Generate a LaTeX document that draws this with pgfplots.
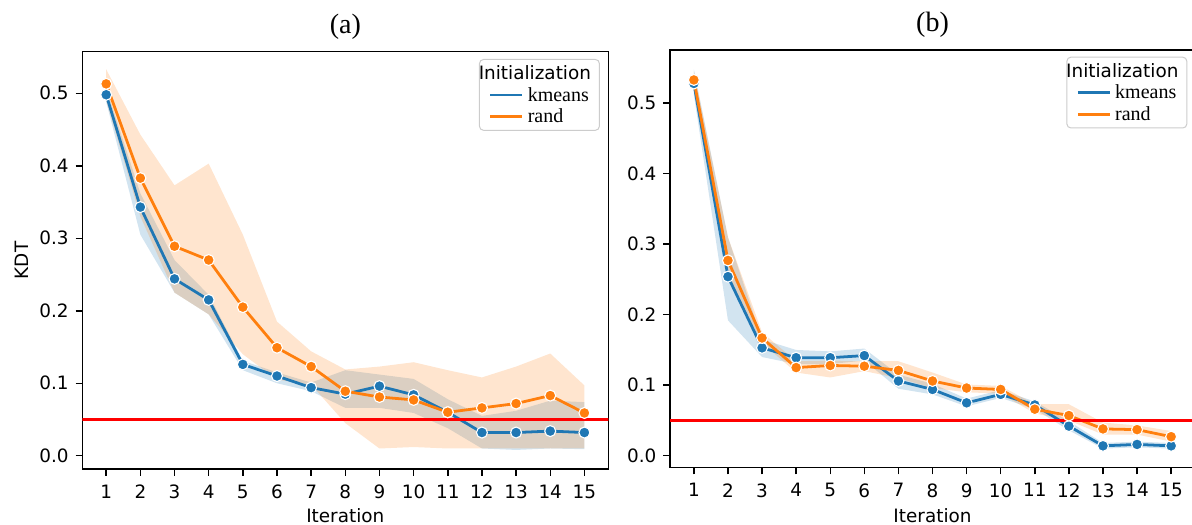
\documentclass[border=0pt]{standalone}
\usepackage{fontspec}
\setmainfont{DejaVu Sans}
\newfontfamily\tnr{Liberation Serif}
\usepackage{pgfplots}
\usepackage{pgfplotstable}
\usepgfplotslibrary{fillbetween}
\pgfplotsset{compat=1.18}

\definecolor{kblue}{HTML}{1F77B4}
\definecolor{rorange}{HTML}{FF7F0E}
\definecolor{legedge}{RGB}{204,204,204}

% mean and confidence band per iteration
\pgfplotstableread{
x m lo hi
1 0.498 0.488 0.507
2 0.343 0.305 0.362
3 0.244 0.225 0.270
4 0.215 0.195 0.222
5 0.126 0.118 0.131
6 0.110 0.100 0.115
7 0.094 0.089 0.101
8 0.085 0.066 0.118
9 0.096 0.066 0.112
10 0.084 0.059 0.106
11 0.060 0.038 0.078
12 0.032 0.010 0.055
13 0.032 0.008 0.062
14 0.034 0.010 0.076
15 0.032 0.009 0.074
}\Ka
\pgfplotstableread{
x m lo hi
1 0.513 0.490 0.533
2 0.383 0.330 0.443
3 0.289 0.225 0.373
4 0.270 0.195 0.403
5 0.205 0.140 0.305
6 0.149 0.105 0.185
7 0.123 0.098 0.144
8 0.089 0.045 0.119
9 0.081 0.010 0.123
10 0.077 0.012 0.129
11 0.060 0.010 0.118
12 0.066 0.010 0.108
13 0.072 0.010 0.123
14 0.083 0.010 0.141
15 0.059 0.010 0.097
}\Ra
\pgfplotstableread{
x m lo hi
1 0.528 0.512 0.548
2 0.254 0.192 0.310
3 0.153 0.140 0.165
4 0.139 0.130 0.150
5 0.139 0.130 0.148
6 0.142 0.135 0.152
7 0.106 0.095 0.115
8 0.094 0.087 0.102
9 0.075 0.070 0.081
10 0.087 0.082 0.093
11 0.072 0.066 0.077
12 0.042 0.036 0.049
13 0.014 0.010 0.018
14 0.016 0.012 0.020
15 0.014 0.010 0.018
}\Kb
\pgfplotstableread{
x m lo hi
1 0.533 0.520 0.545
2 0.277 0.250 0.310
3 0.167 0.160 0.175
4 0.125 0.118 0.134
5 0.128 0.111 0.135
6 0.127 0.120 0.134
7 0.121 0.110 0.134
8 0.106 0.096 0.118
9 0.096 0.090 0.101
10 0.094 0.088 0.099
11 0.066 0.060 0.073
12 0.057 0.050 0.073
13 0.038 0.030 0.047
14 0.037 0.030 0.043
15 0.027 0.020 0.035
}\Rb

\pgfplotsset{
  every axis title shift=0pt,
  panel/.style={
    scale only axis, anchor=south west,
    xmin=0.3, xmax=15.7,
    xtick={1,...,15}, ytick={0,0.1,0.2,0.3,0.4,0.5},
    tick align=outside, xtick pos=lower, ytick pos=left,
    major tick length=3.3pt,
    every tick/.style={black, line width=0.74pt},
    axis line style={line width=0.74pt},
    /pgf/number format/assume math mode=true,
    ticklabel style={font=\fontsize{9.2}{11}\selectfont},
    yticklabel style={/pgf/number format/fixed, /pgf/number format/fixed zerofill,
      /pgf/number format/precision=1, inner xsep=3.3pt},
    xticklabel style={inner ysep=4.4pt},
    label style={font=\fontsize{9.2}{11}\selectfont},
    xlabel style={anchor=base},
    ylabel style={anchor=base},
    title style={font=\tnr\fontsize{14}{16}\selectfont, anchor=base,
      at={([yshift=9.2pt]axis description cs:0.5,1)}},
    legend image code/.code={\path (-3pt,0pt); \draw[##1, line width=1.39pt] (0pt,0pt) -- (16pt,0pt);},
    legend style={anchor=north east, draw=legedge, line width=0.5pt,
      rounded corners=2pt, fill=white, fill opacity=0.8, text opacity=1,
      inner xsep=2.2pt, inner ysep=1.5pt,
      nodes={inner xsep=2pt, inner ysep=1pt, text height=7.5pt, text depth=1.3pt},
      cells={anchor=west}, font=\fontsize{10}{12}\selectfont},
  },
  band/.style={draw=none, fill opacity=0.2, forget plot},
  kline/.style={kblue, line width=1.39pt, mark=*, mark size=2.75pt,
    mark options={fill=kblue, draw=white, line width=0.55pt}, forget plot},
  rline/.style={rorange, line width=1.39pt, mark=*, mark size=2.75pt,
    mark options={fill=rorange, draw=white, line width=0.55pt}, forget plot},
}

\begin{document}
\begin{tikzpicture}
% ---- panel (a)
\begin{axis}[panel, at={(41.15pt,27.5pt)}, width=263pt, height=208.65pt,
  ymin=-0.0183, ymax=0.5574,
  title={(a)}, xlabel={Iteration}, ylabel={KDT},
  xlabel style={at={([yshift=-26.5pt]axis description cs:0.5,0)}},
  ylabel style={at={([xshift=-26.9pt]axis description cs:0,0.5)}},
  legend style={at={(0.984,0.9825)}}]
  \addplot[draw=none, name path=kalo, forget plot] table[x=x, y=lo] {\Ka};
  \addplot[draw=none, name path=kahi, forget plot] table[x=x, y=hi] {\Ka};
  \addplot[band, fill=kblue] fill between[of=kahi and kalo];
  \addplot[draw=none, name path=ralo, forget plot] table[x=x, y=lo] {\Ra};
  \addplot[draw=none, name path=rahi, forget plot] table[x=x, y=hi] {\Ra};
  \addplot[band, fill=rorange] fill between[of=rahi and ralo];
  \addplot[kline] table[x=x, y=m] {\Ka};
  \addplot[rline] table[x=x, y=m] {\Ra};
  \addplot[red, line width=1.5pt, forget plot] coordinates {(0,0.05) (16,0.05)};
  \addlegendimage{empty legend}
  \addlegendentry{\hspace*{-24.5pt}\fontsize{9.2}{11}\selectfont Initialization}
  \addlegendimage{kblue}
  \addlegendentry{\tnr kmeans}
  \addlegendimage{rorange}
  \addlegendentry{\tnr rand}
\end{axis}
% ---- panel (b)
\begin{axis}[panel, at={(335pt,28.15pt)}, width=262.5pt, height=208.85pt,
  ymin=-0.017, ymax=0.5755,
  title={(b)}, xlabel={Iteration},
  xlabel style={at={([yshift=-27.15pt]axis description cs:0.5,0)}},
  legend style={at={(0.9853,0.984)}}]
  \addplot[draw=none, name path=kblo, forget plot] table[x=x, y=lo] {\Kb};
  \addplot[draw=none, name path=kbhi, forget plot] table[x=x, y=hi] {\Kb};
  \addplot[band, fill=kblue] fill between[of=kbhi and kblo];
  \addplot[draw=none, name path=rblo, forget plot] table[x=x, y=lo] {\Rb};
  \addplot[draw=none, name path=rbhi, forget plot] table[x=x, y=hi] {\Rb};
  \addplot[band, fill=rorange] fill between[of=rbhi and rblo];
  \addplot[kline] table[x=x, y=m] {\Kb};
  \addplot[rline] table[x=x, y=m] {\Rb};
  \addplot[red, line width=1.5pt, forget plot] coordinates {(0,0.05) (16,0.05)};
  \addlegendimage{empty legend}
  \addlegendentry{\hspace*{-24.5pt}\fontsize{9.2}{11}\selectfont Initialization}
  \addlegendimage{kblue}
  \addlegendentry{\tnr kmeans}
  \addlegendimage{rorange}
  \addlegendentry{\tnr rand}
\end{axis}
\pgfresetboundingbox
\useasboundingbox (0,0) rectangle (596pt,262pt);
\end{tikzpicture}
\end{document}
